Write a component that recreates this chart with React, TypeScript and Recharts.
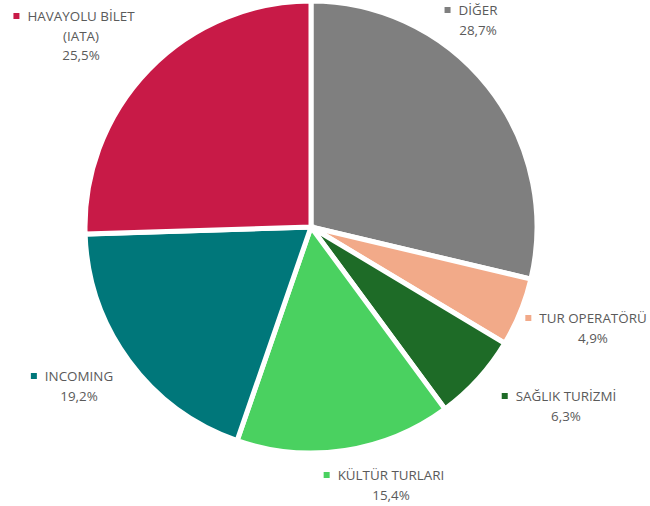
import { Pie, PieChart, Cell } from "recharts"

const categories = [
  "DİĞER",
  "TUR OPERATÖRÜ",
  "SAĞLIK TURİZMİ",
  "KÜLTÜR TURLARI",
  "INCOMING",
  "HAVAYOLU BİLET\n(IATA)",
]
const shares = [28.7, 4.9, 6.3, 15.4, 19.2, 25.5]
const colors = ["#7f7f7f", "#f2aa89", "#1e6b27", "#4ad160", "#00777a", "#c81a47"]

// label name centre, relative to the pie centre
const labelOffsets = [
  [167, -217],
  [282, 91],
  [255, 169],
  [80, 248],
  [-232, 149],
  [-230, -211],
]

const data = categories.map((name, i) => ({ name, value: shares[i] }))

const FONT = "13.4px 'Open Sans'"
let ctx: CanvasRenderingContext2D | null = null
function textWidth(s: string) {
  if (!ctx) ctx = document.createElement("canvas").getContext("2d")
  if (!ctx) return s.length * 8
  ctx.font = FONT
  return ctx.measureText(s).width
}

const renderLabel = (props: any) => {
  const { cx, cy, index } = props
  const [dx, dy] = labelOffsets[index]
  const x = cx + dx
  const y = cy + dy
  const lines = categories[index].split("\n")
  const pct = shares[index].toFixed(1).replace(".", ",") + "%"
  const w = textWidth(lines[0])
  const all = [...lines, pct]
  return (
    <g>
      <rect x={x - w / 2 - 14} y={y - 3} width={6} height={6} fill={colors[index]} />
      {all.map((t, i) => (
        <text
          key={i}
          x={x}
          y={y + i * 19.5}
          textAnchor="middle"
          dominantBaseline="central"
          fill="#5a5a5a"
          style={{ font: FONT }}
        >
          {t}
        </text>
      ))}
    </g>
  )
}

export default function App() {
  return (
    <div style={{ position: "absolute", left: 0, top: 0, width: 650, height: 506, background: "#fff" }}>
      <PieChart width={650} height={506} margin={{ top: 0, right: 0, bottom: 0, left: 0 }}>
        <Pie
          data={data}
          dataKey="value"
          nameKey="name"
          cx={311}
          cy={227}
          outerRadius={226}
          startAngle={90}
          endAngle={-270}
          stroke="#ffffff"
          strokeWidth={5}
          label={renderLabel}
          labelLine={false}
          isAnimationActive={false}
        >
          {data.map((d, i) => (
            <Cell key={d.name} fill={colors[i]} />
          ))}
        </Pie>
      </PieChart>
    </div>
  )
}
